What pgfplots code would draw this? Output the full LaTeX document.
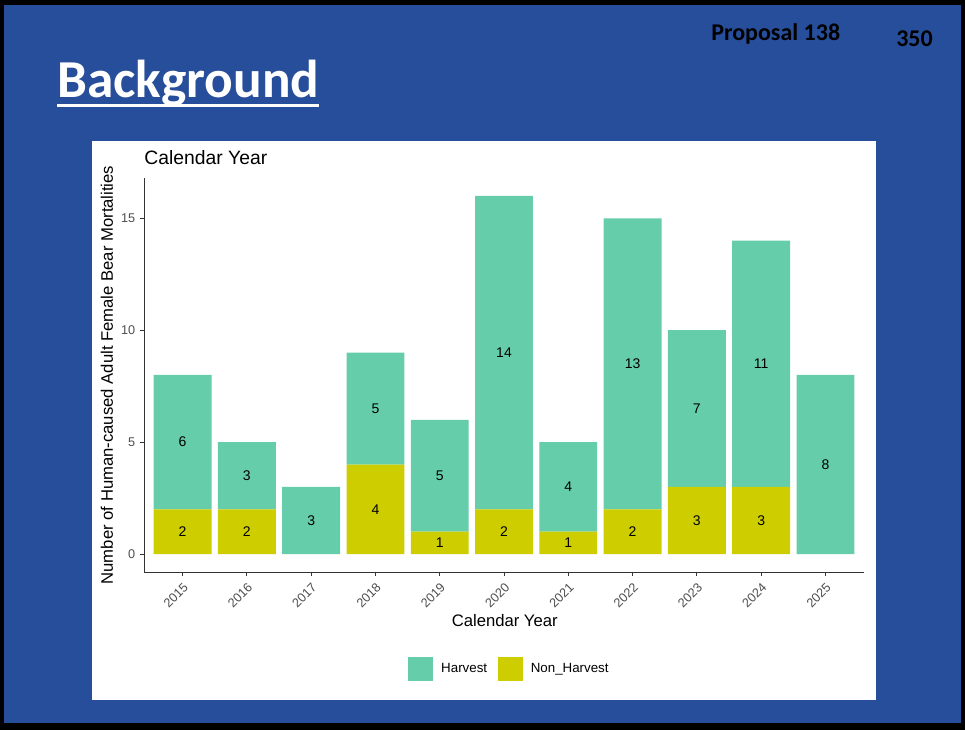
\documentclass[border=0pt]{standalone}
\usepackage{fontspec}
\setmainfont{Liberation Sans}
\newfontfamily\slidefont{Carlito}
\usepackage{pgfplots}
\usepackage{pgfplotstable}
\pgfplotsset{compat=1.18}

\definecolor{slideblue}{RGB}{38,78,154}
\definecolor{harv}{HTML}{66CDAA}
\definecolor{nonharv}{HTML}{CDCD00}
\definecolor{tickgray}{HTML}{4D4D4D}
\definecolor{linegray}{HTML}{333333}

% h = Harvest, n = Non_Harvest, hl/nl = printed labels (empty for zero)
\pgfplotstableread{
x  h  n  hl  nl
0  6  2  6   2
1  3  2  3   2
2  3  0  3   {}
3  5  4  5   4
4  5  1  5   1
5  14 2  14  2
6  4  1  4   1
7  13 2  13  2
8  7  3  7   3
9  11 3  11  3
10 8  0  8   {}
}\mortality

\begin{document}
\begin{tikzpicture}[x=0.75pt,y=0.75pt]
  % slide background
  \fill[black] (0,0) rectangle (965,730);
  \fill[slideblue] (4,7) rectangle (961,725);
  \fill[white] (92,30) rectangle (876,589);
  \node[anchor=base west, inner sep=0pt, text=white,
        font=\slidefont\bfseries\fontsize{40}{48}\selectfont] at (57,632) {Background};
  \fill[white] (57,623) rectangle (319,626);
  \node[anchor=base west, inner sep=0pt,
        font=\slidefont\bfseries\fontsize{18}{20}\selectfont] at (711,689) {Proposal 138};
  \node[anchor=base west, inner sep=0pt,
        font=\slidefont\bfseries\fontsize{18}{20}\selectfont] at (896,683) {350};
  \coordinate (axorig) at (144,158);

  \begin{axis}[
    at={(axorig)}, anchor=south west,
    scale only axis,
    width=540pt, height=295.5pt,
    ybar stacked, bar width=0.9,
    xmin=-0.6, xmax=10.6, ymin=-0.8, ymax=16.8,
    axis lines*=left,
    axis line style={linegray, line width=0.6pt, -},
    tick style={linegray, line width=0.6pt},
    tick align=outside, major tick length=3pt,
    xtick=data,
    xticklabels={2015,2016,2017,2018,2019,2020,2021,2022,2023,2024,2025},
    ytick={0,5,10,15},
    ticklabel style={text=tickgray, font=\fontsize{9.5}{11}\selectfont},
    /pgf/number format/assume math mode=true,
    xticklabel style={rotate=45, anchor=north east},
    xlabel={Calendar Year},
    ylabel={Number of Human-caused Adult Female Bear Mortalities},
    label style={font=\fontsize{12.5}{14}\selectfont},
    xlabel style={at={(axis description cs:0.501,-0.124)}, anchor=center},
    ylabel style={at={(axis description cs:-0.0514,0.5)}, anchor=center},
    title={Calendar Year},
    title style={at={(axis description cs:-0.006,1.031)}, anchor=west,
                 font=\fontsize{14.5}{16}\selectfont},
    legend image code/.code={\fill[#1, draw=none] (0pt,-9pt) rectangle (18.75pt,9pt);},
    legend style={at={(axis description cs:0.508,-0.246)}, anchor=center,
                  draw=none, fill=none, legend columns=2,
                  font=\fontsize{10}{12}\selectfont,
                  /tikz/every odd column/.append style={column sep=4pt},
                  /tikz/every even column/.append style={column sep=6pt}},
    every node near coord/.append style={anchor=center, text=black,
        font=\fontsize{10.5}{12}\selectfont},
  ]
    \addlegendimage{fill=harv, draw=none}
    \addlegendentry{Harvest}
    \addlegendimage{fill=nonharv, draw=none}
    \addlegendentry{Non\_Harvest}

    \addplot[fill=nonharv, draw=none, forget plot,
             nodes near coords, point meta=explicit symbolic]
      table[x=x, y=n, meta=nl] {\mortality};
    \addplot[fill=harv, draw=none, forget plot,
             nodes near coords, point meta=explicit symbolic]
      table[x=x, y=h, meta=hl] {\mortality};
  \end{axis}
\end{tikzpicture}
\end{document}
